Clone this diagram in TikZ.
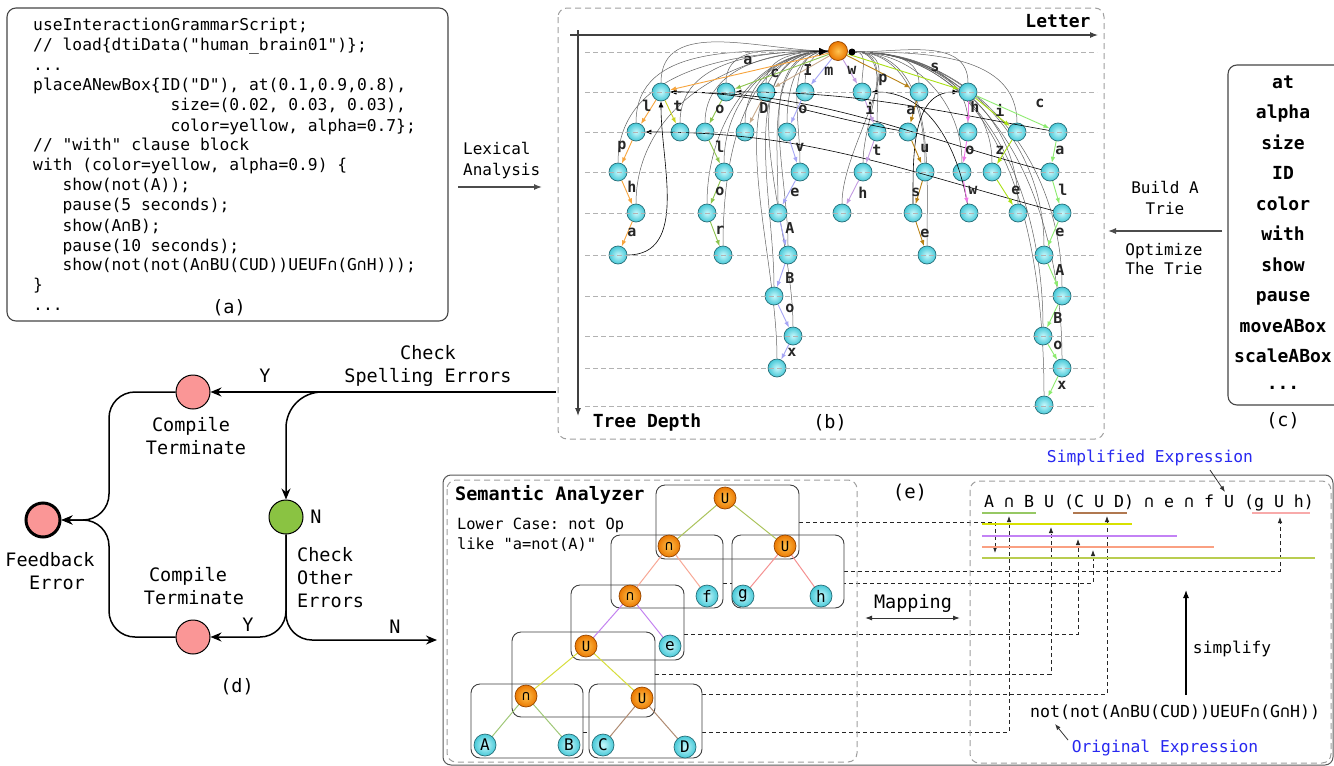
\documentclass[tikz,border=0pt]{standalone}
\usepackage{fontspec}
\setmonofont{DejaVu Sans Mono}
\renewcommand{\familydefault}{\ttdefault}
\usetikzlibrary{arrows.meta}
\pgfdeclarelayer{back}
\pgfdeclarelayer{front}
\pgfsetlayers{back,main,front}
\definecolor{frame}{RGB}{70,70,70}
\definecolor{cA}{RGB}{247,164,60}
\definecolor{cT}{RGB}{200,210,30}
\definecolor{cCo}{RGB}{140,195,75}
\definecolor{cI}{RGB}{200,170,140}
\definecolor{cM}{RGB}{165,165,245}
\definecolor{cW}{RGB}{195,155,225}
\definecolor{cP}{RGB}{185,130,20}
\definecolor{cSh}{RGB}{238,120,230}
\definecolor{cSi}{RGB}{170,225,20}
\definecolor{cSc}{RGB}{140,235,110}
\definecolor{pinkN}{RGB}{250,150,150}
\definecolor{greenN}{RGB}{138,195,66}
\definecolor{exblue}{RGB}{40,40,240}
\definecolor{eOl}{RGB}{170,195,90}
\definecolor{eSa}{RGB}{248,168,150}
\definecolor{ePk}{RGB}{245,145,145}
\definecolor{eVi}{RGB}{195,130,240}
\definecolor{eYe}{RGB}{215,222,60}
\definecolor{eGr}{RGB}{160,200,120}
\definecolor{eBr}{RGB}{176,140,115}
\definecolor{lGr}{RGB}{150,200,100}
\definecolor{lBr}{RGB}{176,120,80}
\definecolor{lPk}{RGB}{248,170,170}
\definecolor{lYe}{RGB}{215,225,0}
\definecolor{lVi}{RGB}{195,130,245}
\definecolor{lSa}{RGB}{250,160,130}
\definecolor{lOl}{RGB}{185,205,80}
\definecolor{tnb}{RGB}{40,110,120}
\definecolor{tnI}{RGB}{200,248,252}
\definecolor{tnO}{RGB}{70,200,215}
\definecolor{onb}{RGB}{150,70,0}
\definecolor{onI}{RGB}{255,195,80}
\definecolor{onO}{RGB}{235,120,0}
\newcommand\myfs[1]{\fontsize{#1}{#1}\selectfont}
\newcommand\TN[3]{\node[tn] (#1) at (#2,#3) {};}
\newcommand\TE[6]{\draw[tedge,draw=#3] (#1) -- (#2);\node[tlab] (L#2) at (#5,#6) {#4};}
\begin{document}
\begin{tikzpicture}[x=1pt,y=-1pt,
  frm/.style={draw=frame, line width=1.1pt, rounded corners=9pt},
  dbox/.style={draw=gray!75, line width=1pt, dash pattern=on 6pt off 4pt, rounded corners=9pt},
  code/.style={anchor=base west, inner sep=0pt, font=\myfs{16.3}},
  kw/.style={anchor=base, inner sep=0pt, font=\bfseries\myfs{18}},
  lab/.style={inner sep=0pt, font=\myfs{18.5}},
  mid/.style={inner sep=0pt, font=\myfs{16}},
  tn/.style={circle, minimum size=18pt, inner sep=0pt, draw=tnb, line width=0.7pt, inner color=tnI, outer color=tnO},
  rn/.style={circle, minimum size=19pt, inner sep=0pt, draw=onb, line width=0.7pt, inner color=onI, outer color=onO},
  tedge/.style={line width=0.9pt, -{Latex[length=6pt,width=4.5pt]}},
  tlab/.style={inner sep=0pt, font=\bfseries\myfs{15}, text=black!85},
  glink/.style={draw=black!62, line width=0.5pt},
  flink/.style={draw=black, line width=0.6pt, -{Latex[length=6pt,width=5pt]}},
  grid/.style={draw=gray!60, line width=0.7pt, dash pattern=on 5pt off 3pt},
  axis/.style={draw=black!75, line width=1.1pt},
  parr/.style={draw=black!70, line width=1.3pt, -{Latex[length=8pt,width=6pt]}},
  darr/.style={draw=black, line width=1.5pt, -{Stealth[length=11pt,width=9pt]}},
  cnode/.style={circle, minimum size=34pt, inner sep=0pt, draw=black, line width=1pt},
  onode/.style={circle, minimum size=22pt, inner sep=0pt, draw=onb, line width=0.7pt, inner color=onI, outer color=onO, font=\myfs{14}},
  lnode/.style={circle, minimum size=22pt, inner sep=0pt, draw=tnb, line width=0.7pt, inner color=tnI, outer color=tnO, font=\myfs{16}},
  sbox/.style={draw=black!75, line width=0.9pt, rounded corners=9pt, inner sep=0pt},
  dconn/.style={draw=black!85, line width=0.8pt, dash pattern=on 4pt off 3pt, -{Latex[length=6pt,width=4.5pt]}},
  te/.style={line width=1pt}]
\useasboundingbox (0,0) rectangle (1334,766);
\begin{pgfonlayer}{back}
\fill[white] (0,0) rectangle (1334,766);
\end{pgfonlayer}

% ---------------- (a) code ----------------
\draw[frm] (7,8) rectangle (448,321);
\node[code] (a1) at (33,30) {useInteractionGrammarScript;};
\node[code] (a2) at (33,50) {// load\{dtiData("human\_brain01")\};};
\node[code] (a3) at (33,70) {...};
\node[code] (a4) at (33,90) {placeANewBox\{ID("D"), at(0.1,0.9,0.8),};
\node[code] (a5) at (170.3,110) {size=(0.02, 0.03, 0.03),};
\node[code] (a6) at (170.3,131) {color=yellow, alpha=0.7\};};
\node[code] (a7) at (33,150) {// "with" clause block};
\node[code] (a8) at (33,170) {with (color=yellow, alpha=0.9) \{};
\node[code] (a9) at (62.4,190) {show(not(A));};
\node[code] (a10) at (62.4,210) {pause(5 seconds);};
\node[code] (a11) at (62.4,231) {show(A∩B);};
\node[code] (a12) at (62.4,251) {pause(10 seconds);};
\node[code] (a13) at (62.4,270) {show(not(not(A∩BU(CUD))UEUF∩(G∩H)));};
\node[code] (a14) at (33,290) {\}};
\node[code] (a15) at (33,310) {...};
\node[lab] (alab) at (229,308) {(a)};

% lexical analysis
\node[mid, anchor=base west] (lex1) at (463,154) {Lexical};
\node[mid, anchor=base west] (lex2) at (463,175) {Analysis};
\coordinate (lxs) at (458,187);
\coordinate (lxe) at (542,187);
\draw[parr] (lxs) -- (lxe);

% ---------------- (c) keywords ----------------
\draw[frm] (1228,65) rectangle (1345,405);
\foreach \w [count=\i] in {at,alpha,size,ID,color,with,show,pause,moveABox,scaleABox}
  \node[kw] (kw\i) at (1283,{88+30.5*(\i-1)}) {\w};
\node[kw] (kw11) at (1283,389) {...};
\node[lab] (clab) at (1283,421) {(c)};
\node[mid, anchor=base] (bt1) at (1165,193) {Build A};
\node[mid, anchor=base] (bt2) at (1165,214) {Trie};
\node[mid, anchor=base] (bt3) at (1164,255) {Optimize};
\node[mid, anchor=base] (bt4) at (1164,274) {The Trie};
\coordinate (bts) at (1222,231);
\coordinate (bte) at (1108,231);
\draw[parr] (bts) -- (bte);

% ---------------- (b) trie ----------------
\draw[dbox] (558,8) rectangle (1104,439);
\coordinate (ax0) at (570,35);
\coordinate (ax1) at (1098,35);
\coordinate (ay0) at (578,30);
\coordinate (ay1) at (578,416);
\draw[axis,-{Latex[length=8pt,width=6pt]}] (ax0) -- (ax1);
\draw[axis,-{Latex[length=8pt,width=6pt]}] (ay0) -- (ay1);
\node[inner sep=0pt, font=\bfseries\myfs{18}] (letter) at (1058,21) {Letter};
\node[inner sep=0pt, font=\bfseries\myfs{18}] (tdepth) at (647,423) {Tree Depth};
\node[lab] (blab) at (830,423) {(b)};

\TN{qa}{661}{92}\TN{qc}{726}{92}\TN{qI}{766}{92}\TN{qm}{805}{92}
\TN{qw}{862}{92}\TN{qp}{919}{92}\TN{qs}{968}{92}
\TN{qal}{636}{132}\TN{qat}{680}{132}\TN{qco}{705}{132}\TN{qID}{745}{132}
\TN{qmo}{787}{132}\TN{qwi}{877}{132}\TN{qpa}{908}{132}\TN{qsh}{968}{132}
\TN{qsi}{1017}{132}\TN{qsc}{1058}{132}
\TN{qalp}{618}{172}\TN{qcol}{724}{172}\TN{qmov}{800}{172}\TN{qwit}{863}{172}
\TN{qpau}{925}{172}\TN{qsho}{962}{172}\TN{qsiz}{992}{172}\TN{qsca}{1050}{172}
\TN{qalph}{636}{213}\TN{qcolo}{707}{213}\TN{qmove}{778}{213}\TN{qwith}{842}{213}
\TN{qpaus}{913}{213}\TN{qshow}{969}{213}\TN{qsize}{1018}{213}\TN{qscal}{1062}{213}
\TN{qalpha}{618}{255}\TN{qcolor}{723}{255}\TN{qmoveA}{788}{255}\TN{qpause}{927}{255}\TN{qscale}{1044}{255}
\TN{qmoveAB}{774}{296}\TN{qscaleA}{1062}{296}
\TN{qmoveABo}{793}{336}\TN{qscaleAB}{1043}{336}
\TN{qmoveABox}{777}{368}\TN{qscaleABo}{1062}{368}
\TN{qscaleABox}{1044}{405}

\begin{pgfonlayer}{front}
\foreach \yy in {52,92,132,172,213,255,296,336,368,406}
  \draw[grid] (585,\yy) -- (1097,\yy);
\node[rn] (root) at (838,51) {};
\node[circle, fill=black, inner sep=0pt, minimum size=7pt] (rdot) at (852,52) {};
\coordinate (rin) at (810,52);
\draw[black, line width=0.8pt, -{Latex[length=9pt,width=8pt]}] (rin) -- (root);
\end{pgfonlayer}

\begin{pgfonlayer}{back}
\foreach \n in {qa,qc,qI,qm,qal,qat,qco,qID,qmo,qalp,qcol,qmov,qalph,qcolo,qmove,qcolor,qmoveA,qmoveAB,qmoveABo,qmoveABox}
  \draw[glink] (\n) to[out=90,in=180] (root);
\foreach \n in {qw,qp,qs,qwi,qsh,qsi,qwit,qpau,qsho,qsiz,qwith,qsize,qpause,qscale,qscaleA,qscaleAB,qscaleABo,qscaleABox}
  \draw[glink] (\n) to[out=90,in=0] (rdot);
\end{pgfonlayer}

\draw[flink] (qalpha) to[out=0,in=-90] (qa);
\draw[flink] (qpa) to[out=170,in=0] (qa);
\draw[flink] (qsca) to[out=165,in=0] (qa);
\draw[flink] (qsc) to[out=170,in=0] (qc);
\draw[flink] (qscal) to[out=165,in=0] (qal);
\draw[flink] (qpaus) to[out=90,in=180] (qs);
\draw[flink] (qshow) to[out=100,in=0] (qw);

\TE{root}{qa}{cA}{a}{748}{60}
\TE{root}{qc}{cCo}{c}{775}{73}
\TE{root}{qI}{cI}{I}{808}{70}
\TE{root}{qm}{cM}{m}{829}{71}
\TE{root}{qw}{cW}{w}{852}{70}
\TE{root}{qp}{cP}{p}{883}{80}
\TE{root}{qs}{cSi}{s}{935}{67}
\TE{qa}{qal}{cA}{l}{647}{106}
\TE{qa}{qat}{cT}{t}{678}{106}
\TE{qc}{qco}{cCo}{o}{720}{109}
\TE{qI}{qID}{cI}{D}{764}{108}
\TE{qm}{qmo}{cM}{o}{803}{109}
\TE{qw}{qwi}{cW}{i}{870}{108}
\TE{qp}{qpa}{cP}{a}{911}{110}
\TE{qs}{qsh}{cSh}{h}{975}{107}
\TE{qs}{qsi}{cSi}{i}{1000}{110}
\TE{qs}{qsc}{cSc}{c}{1040}{103}
\TE{qal}{qalp}{cA}{p}{622}{147}
\TE{qco}{qcol}{cCo}{l}{720}{147}
\TE{qmo}{qmov}{cM}{v}{800}{147}
\TE{qwi}{qwit}{cW}{t}{877}{150}
\TE{qpa}{qpau}{cP}{u}{925}{149}
\TE{qsh}{qsho}{cSh}{o}{970}{150}
\TE{qsi}{qsiz}{cSi}{z}{1000}{150}
\TE{qsc}{qsca}{cSc}{a}{1060}{150}
\TE{qalp}{qalph}{cA}{h}{632}{187}
\TE{qcol}{qcolo}{cCo}{o}{720}{191}
\TE{qmov}{qmove}{cM}{e}{795}{192}
\TE{qwit}{qwith}{cW}{h}{863}{193}
\TE{qpau}{qpaus}{cP}{s}{916}{192}
\TE{qsho}{qshow}{cSh}{w}{973}{190}
\TE{qsiz}{qsize}{cSi}{e}{1016}{190}
\TE{qsca}{qscal}{cSc}{l}{1063}{190}
\TE{qalph}{qalpha}{cA}{a}{632}{232}
\TE{qcolo}{qcolor}{cCo}{r}{720}{230}
\TE{qmove}{qmoveA}{cM}{A}{790}{228}
\TE{qpaus}{qpause}{cP}{e}{925}{233}
\TE{qscal}{qscale}{cSc}{e}{1060}{232}
\TE{qmoveA}{qmoveAB}{cM}{B}{790}{278}
\TE{qscale}{qscaleA}{cSc}{A}{1060}{270}
\TE{qmoveAB}{qmoveABo}{cM}{o}{790}{308}
\TE{qscaleA}{qscaleAB}{cSc}{B}{1058}{318}
\TE{qmoveABo}{qmoveABox}{cM}{x}{792}{352}
\TE{qscaleAB}{qscaleABo}{cSc}{o}{1058}{345}
\TE{qscaleABo}{qscaleABox}{cSc}{x}{1062}{385}

% ---------------- (d) ----------------
\node[cnode, fill=pinkN] (T1) at (193,392) {};
\node[cnode, fill=greenN] (G) at (286,517) {};
\node[cnode, fill=pinkN] (T2) at (193,637) {};
\node[cnode, fill=pinkN, line width=3pt] (F) at (43,520) {};
\coordinate (bIn) at (556,392);
\coordinate (sp) at (326,392);
\coordinate (jn) at (109,520);
\coordinate (eN) at (437,640);
\draw[darr] (bIn) -- (T1);
\draw[darr, rounded corners=36pt] (sp) -| (G);
\draw[darr, rounded corners=26pt] (T1) -| (jn) -- (F);
\draw[darr, rounded corners=26pt] (T2) -| (jn) -- (F);
\draw[darr, rounded corners=26pt] (G) |- (T2);
\draw[darr, rounded corners=26pt] (G) |- (eN);
\node[lab] (d1) at (428,353) {Check};
\node[lab] (d2) at (428,377) {Spelling Errors};
\node[lab] (d3) at (265,376) {Y};
\node[lab] (d4) at (191,426) {Compile};
\node[lab] (d5) at (196,448) {Terminate};
\node[lab] (d6) at (316,517) {N};
\node[lab] (d7) at (50,560) {Feedback};
\node[lab] (d8) at (57,583) {Error};
\node[lab, anchor=west] (d9) at (297,555) {Check};
\node[lab, anchor=west] (d10) at (297,578) {Other};
\node[lab, anchor=west] (d11) at (297,601) {Errors};
\node[lab] (d12) at (188,576) {Compile};
\node[lab] (d13) at (194,598) {Terminate};
\node[lab] (d14) at (248,625) {Y};
\node[lab] (d15) at (395,627) {N};
\node[lab] (d16) at (237,687) {(d)};

% ---------------- (e) ----------------
\draw[draw=black!65, line width=1pt, rounded corners=8pt] (443,475) rectangle (1333,765);
\draw[dbox] (447,480) rectangle (857,762);
\draw[dbox] (970,481) rectangle (1331,763);
\node[inner sep=0pt, anchor=west, font=\bfseries\myfs{18.5}] (sem) at (455,495) {Semantic Analyzer};
\node[inner sep=0pt, anchor=west, font=\myfs{15.4}] (low1) at (457,525) {Lower Case: not Op};
\node[inner sep=0pt, anchor=west, font=\myfs{15.4}] (low2) at (457,545) {like "a=not(A)"};
\node[inner sep=0pt, font=\myfs{19}] (elab) at (910,493) {(e)};
\node[lab] (map) at (913,603) {Mapping};
\coordinate (m0) at (865,618);
\coordinate (m1) at (960,618);
\draw[black!80, line width=1pt, {Latex[length=7pt,width=5pt]}-{Latex[length=7pt,width=5pt]}] (m0) -- (m1);

% boxes
\node[sbox, fill=white, minimum width=112pt, minimum height=73pt] (b3) at (788,571.5) {};
\node[sbox, fill=white, minimum width=113pt, minimum height=74pt] (b7) at (645.5,721) {};
\node[sbox, minimum width=143pt, minimum height=74pt] (b1) at (727.5,522) {};
\node[sbox, minimum width=112pt, minimum height=73pt] (b2) at (667,571.5) {};
\node[sbox, minimum width=113pt, minimum height=75pt] (b4) at (627.5,622.5) {};
\node[sbox, minimum width=143pt, minimum height=85pt] (b5) at (583.5,674.5) {};
\node[sbox, minimum width=112pt, minimum height=74pt] (b6) at (527,721) {};

% tree edges and nodes
\coordinate (ptU) at (725,498);
\coordinate (ptI1) at (669,546);
\coordinate (ptU1) at (785,546);
\coordinate (ptI2) at (630,596);
\coordinate (pf) at (707,596);
\coordinate (pg) at (743,596);
\coordinate (ph) at (821,596);
\coordinate (ptU2) at (586,646);
\coordinate (pe) at (670,646);
\coordinate (ptI3) at (526,696);
\coordinate (ptU3) at (642,698);
\coordinate (pA) at (485,745);
\coordinate (pB) at (569,745);
\coordinate (pC) at (603,745);
\coordinate (pD) at (685,747);
\draw[te, eOl] (ptU) -- (ptI1); \draw[te, eOl] (ptU) -- (ptU1);
\draw[te, eSa] (ptI1) -- (ptI2); \draw[te, eSa] (ptI1) -- (pf);
\draw[te, ePk] (ptU1) -- (pg); \draw[te, ePk] (ptU1) -- (ph);
\draw[te, eVi] (ptI2) -- (ptU2); \draw[te, eVi] (ptI2) -- (pe);
\draw[te, eYe] (ptU2) -- (ptI3); \draw[te, eYe] (ptU2) -- (ptU3);
\draw[te, eGr] (ptI3) -- (pA); \draw[te, eGr] (ptI3) -- (pB);
\draw[te, eBr] (ptU3) -- (pC); \draw[te, eBr] (ptU3) -- (pD);
\node[onode] (tU) at (ptU) {U};
\node[onode] (tI1) at (ptI1) {∩};
\node[onode] (tU1) at (ptU1) {U};
\node[onode] (tI2) at (ptI2) {∩};
\node[lnode] (lf) at (pf) {f};
\node[lnode] (lg) at (pg) {g};
\node[lnode] (lh) at (ph) {h};
\node[onode] (tU2) at (ptU2) {U};
\node[lnode] (le) at (pe) {e};
\node[onode] (tI3) at (ptI3) {∩};
\node[onode] (tU3) at (ptU3) {U};
\node[lnode] (lA) at (pA) {A};
\node[lnode] (lB) at (pB) {B};
\node[lnode] (lC) at (pC) {C};
\node[lnode] (lD) at (pD) {D};

% expression side
\node[inner sep=0pt, font=\myfs{16.3}, text=exblue] (simp) at (1150,458) {Simplified Expression};
\node[inner sep=0pt, anchor=west, font=\myfs{16.6}] (expr) at (984,503) {A ∩ B U (C U D) ∩ e ∩ f U (g U h)};
\coordinate (sa0) at (1210,470);
\coordinate (sa1) at (1225,492);
\draw[black!80, line width=0.8pt, -{Latex[length=6pt,width=4.5pt]}] (sa0) -- (sa1);
\coordinate (u1a) at (982,513); \coordinate (u1b) at (1036,513);
\coordinate (u2a) at (1073,513); \coordinate (u2b) at (1127,513);
\coordinate (u3a) at (1252,513); \coordinate (u3b) at (1310,513);
\coordinate (v1a) at (982,524); \coordinate (v1b) at (1132,524);
\coordinate (v2a) at (982,536); \coordinate (v2b) at (1177,536);
\coordinate (v3a) at (982,547); \coordinate (v3b) at (1214,547);
\coordinate (v4a) at (982,558); \coordinate (v4b) at (1315,558);
\draw[lGr, line width=1.6pt] (u1a) -- (u1b);
\draw[lBr, line width=1.6pt] (u2a) -- (u2b);
\draw[lPk, line width=1.6pt] (u3a) -- (u3b);
\draw[lYe, line width=2.6pt] (v1a) -- (v1b);
\draw[lVi, line width=1.1pt] (v2a) -- (v2b);
\draw[lSa, line width=2.2pt] (v3a) -- (v3b);
\draw[lOl, line width=1.6pt] (v4a) -- (v4b);

\coordinate (t1) at (995,553);
\coordinate (t2) at (1280,517);
\coordinate (t3) at (1093,550);
\coordinate (t4) at (1078,539);
\coordinate (t5) at (1051,527);
\coordinate (t6) at (1107,516);
\coordinate (t7) at (1009,516);
\begin{pgfonlayer}{back}
\draw[dconn] (b1.east) -| (t1);
\draw[dconn] (b3.east) -| (t2);
\draw[dconn] ([yshift=-11.5pt]b2.east) -| (t3);
\draw[dconn] ([yshift=-11.5pt]b4.east) -| (t4);
\draw[dconn] (b5.east) -| (t5);
\draw[dconn] ([yshift=27pt]b7.east) -| (t6);
\draw[dconn] ([yshift=-11pt]b6.east) -| (t7);
\end{pgfonlayer}

\coordinate (s0) at (1186,695);
\coordinate (s1) at (1186,590);
\draw[black, line width=1.1pt, -{Latex[length=8pt,width=6pt]}] (s0) -- (s1);
\node[inner sep=0pt, font=\myfs{16.2}] (simpl) at (1232,649) {simplify};
\node[inner sep=0pt, anchor=west, font=\myfs{16.6}] (orig) at (1030,712) {not(not(A∩BU(CUD))UEUF∩(G∩H))};
\coordinate (o0) at (1068,740);
\coordinate (o1) at (1055,724);
\draw[black!80, line width=0.8pt, -{Latex[length=6pt,width=4.5pt]}] (o0) -- (o1);
\node[inner sep=0pt, font=\myfs{16.3}, text=exblue] (origlab) at (1165,748) {Original Expression};
\end{tikzpicture}
\end{document}
